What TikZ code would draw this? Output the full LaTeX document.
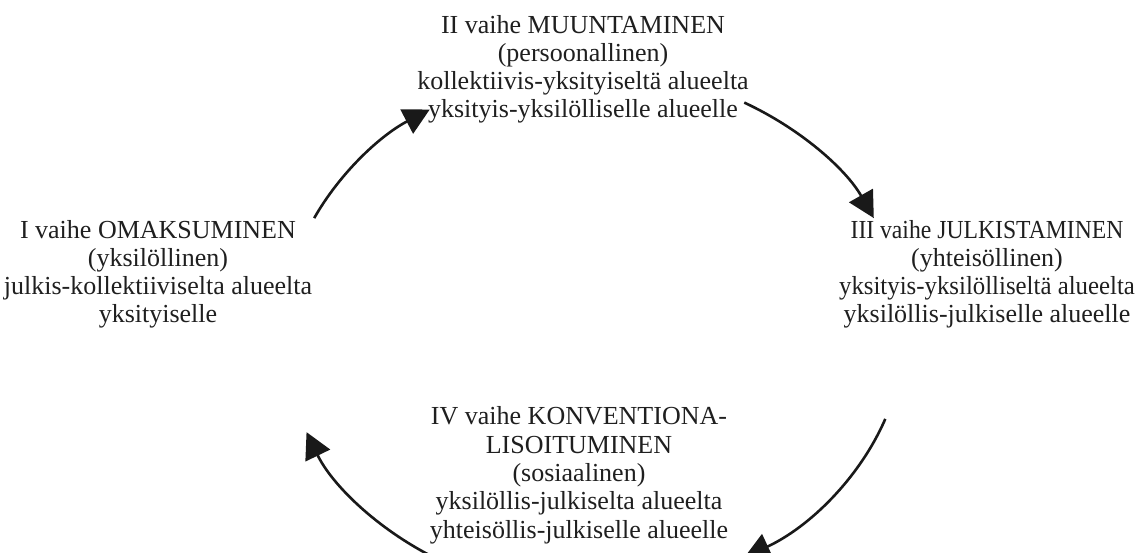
\documentclass[tikz,border=0pt]{standalone}
\usepackage{fontspec}
\setmainfont{Liberation Serif}
\usepackage{graphicx}
\usetikzlibrary{arrows.meta}
\begin{document}
\begin{tikzpicture}[x=1pt,y=-1pt,
  lbl/.style={align=center,inner sep=0pt,anchor=base,font=\fontsize{26}{28.3}\selectfont,text=black!88},
  cyc/.style={line width=2.6pt,draw=black!90,-{Triangle[length=26pt,width=27pt]}}]
\clip (0,0) rectangle (1138,553);
\node[lbl] (n2) at (583,118) {II vaihe MUUNTAMINEN\\(persoonallinen)\\kollektiivis-yksityiseltä alueelta\\yksityis-yksilölliselle alueelle};
\node[lbl] (n1) at (158,323) {I vaihe OMAKSUMINEN\\(yksilöllinen)\\julkis-kollektiiviselta alueelta\\yksityiselle};
\node[lbl] (n3) at (987,323) {\scalebox{0.91}[1]{III vaihe JULKISTAMINEN}\\(yhteisöllinen)\\\scalebox{0.955}[1]{yksityis-yksilölliseltä alueelta}\\yksilöllis-julkiselle alueelle};
\node[lbl] (n4) at (579,538) {IV vaihe KONVENTIONA-\\LISOITUMINEN\\(sosiaalinen)\\yksilöllis-julkiselta alueelta\\yhteisöllis-julkiselle alueelle};
\coordinate (s1) at (314.2,218.1);
\coordinate (s2) at (744.3,102.6);
\coordinate (s3) at (885.3,418.9);
\coordinate (s4) at (434.3,557.6);
\draw[cyc] (s1) arc[start angle=154.5,end angle=122,x radius=310pt,y radius=260pt];
\draw[cyc] (s2) arc[start angle=61,end angle=25.5,x radius=310pt,y radius=260pt];
\draw[cyc] (s3) arc[start angle=-20,end angle=-61,x radius=310pt,y radius=260pt];
\draw[cyc] (s4) arc[start angle=-121,end angle=-158,x radius=310pt,y radius=260pt];
\end{tikzpicture}
\end{document}
